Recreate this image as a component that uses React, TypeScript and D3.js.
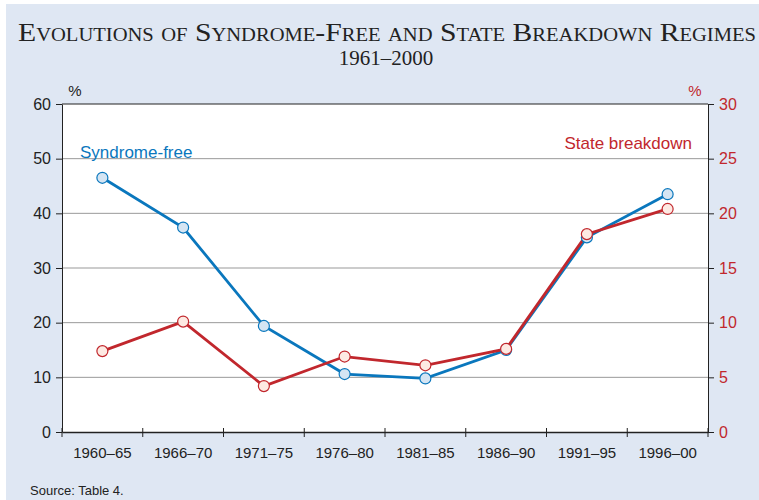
import React, { useEffect, useRef } from "react";
import { select, scaleBand, scaleLinear, axisLeft, axisRight, axisBottom, line } from "d3";

const periods = ["1960–65", "1966–70", "1971–75", "1976–80", "1981–85", "1986–90", "1991–95", "1996–00"];
const syndromeFree = [46.5, 37.4, 19.4, 10.6, 9.8, 15.0, 35.6, 43.5];
const stateBreakdown = [7.4, 10.1, 4.2, 6.9, 6.1, 7.6, 18.1, 20.4];
const leftTicks = [0, 10, 20, 30, 40, 50, 60];
const rightTicks = [0, 5, 10, 15, 20, 25, 30];

const BLUE = "#0a77bd";
const RED = "#c1272d";
const BG = "#dfe7f3";
const SANS = "'Liberation Sans', Arial, sans-serif";
const SERIF = "'Liberation Serif', 'Times New Roman', serif";

const App = () => {
  const svgRef = useRef<SVGSVGElement | null>(null);

  useEffect(() => {
    const svg = select(svgRef.current);
    svg.selectAll("*").remove();

    const left = 62;
    const right = 708;
    const top = 104;
    const bottom = 432;

    const x = scaleBand().domain(periods).range([left, right]);
    const yL = scaleLinear().domain([0, 60]).range([bottom, top]);
    const yR = scaleLinear().domain([0, 30]).range([bottom, top]);
    const cx = (i: number) => x(periods[i])! + x.bandwidth() / 2;

    svg.append("rect").attr("x", 6).attr("y", 4).attr("width", 753).attr("height", 496).attr("fill", BG);

    // titles
    svg
      .append("text")
      .attr("x", 387)
      .attr("y", 41)
      .attr("text-anchor", "middle")
      .attr("font-family", SERIF)
      .attr("font-size", 26)
      .attr("textLength", 738)
      .attr("lengthAdjust", "spacingAndGlyphs")
      .style("font-variant", "small-caps")
      .attr("fill", "#222")
      .text("Evolutions of Syndrome-Free and State Breakdown  Regimes");
    svg
      .append("text")
      .attr("x", 386)
      .attr("y", 65)
      .attr("text-anchor", "middle")
      .attr("font-family", SERIF)
      .attr("font-size", 21)
      .attr("fill", "#222")
      .text("1961–2000");

    svg.append("rect").attr("x", left).attr("y", top).attr("width", right - left).attr("height", bottom - top).attr("fill", "#fff");

    // gridlines
    svg
      .append("g")
      .selectAll("line")
      .data(leftTicks.slice(1))
      .enter()
      .append("line")
      .attr("x1", left)
      .attr("x2", right)
      .attr("y1", (d) => yL(d))
      .attr("y2", (d) => yL(d))
      .attr("stroke", (d) => (d === 60 ? "#222" : "#999"))
      .attr("stroke-width", 1);

    // axes
    const gl = svg
      .append("g")
      .attr("transform", `translate(${left},0)`)
      .call(axisLeft(yL).tickValues(leftTicks).tickSize(6).tickSizeOuter(0).tickPadding(5));
    gl.select(".domain").attr("stroke", "#222");
    gl.selectAll(".tick line").attr("stroke", "#222");
    gl.selectAll("text").attr("font-family", SANS).attr("font-size", 16).attr("fill", "#222");

    const gr = svg
      .append("g")
      .attr("transform", `translate(${right},0)`)
      .call(axisRight(yR).tickValues(rightTicks).tickSize(6).tickSizeOuter(0).tickPadding(5));
    gr.select(".domain").attr("stroke", "#222");
    gr.selectAll(".tick line").attr("stroke", "#222");
    gr.selectAll("text").attr("font-family", SANS).attr("font-size", 16).attr("fill", RED);

    const gb = svg
      .append("g")
      .attr("transform", `translate(0,${bottom})`)
      .call(axisBottom(x).tickSize(0).tickPadding(15));
    gb.select(".domain").attr("stroke", "#222").attr("stroke-width", 1.5);
    gb.selectAll("text").attr("font-family", SANS).attr("font-size", 15).attr("fill", "#222");
    // tick marks on band boundaries
    const bounds = periods.map((p) => x(p)!).concat([right]);
    svg
      .append("g")
      .selectAll("line")
      .data(bounds)
      .enter()
      .append("line")
      .attr("x1", (d) => d)
      .attr("x2", (d) => d)
      .attr("y1", bottom - 4)
      .attr("y2", bottom + 5)
      .attr("stroke", "#222");

    // % labels
    svg.append("text").attr("x", 75).attr("y", 96).attr("text-anchor", "middle").attr("font-family", SANS).attr("font-size", 15).attr("fill", "#222").text("%");
    svg.append("text").attr("x", 695).attr("y", 96).attr("text-anchor", "middle").attr("font-family", SANS).attr("font-size", 15).attr("fill", RED).text("%");

    // lines
    const blueLine = line<number>()
      .x((_, i) => cx(i))
      .y((d) => yL(d));
    const redLine = line<number>()
      .x((_, i) => cx(i))
      .y((d) => yR(d));

    svg.append("path").datum(syndromeFree).attr("d", blueLine).attr("fill", "none").attr("stroke", BLUE).attr("stroke-width", 2.8);
    svg.append("path").datum(stateBreakdown).attr("d", redLine).attr("fill", "none").attr("stroke", RED).attr("stroke-width", 2.8);

    svg
      .append("g")
      .selectAll("circle")
      .data(syndromeFree)
      .enter()
      .append("circle")
      .attr("cx", (_, i) => cx(i))
      .attr("cy", (d) => yL(d))
      .attr("r", 5.5)
      .attr("fill", "#d5e5f3")
      .attr("stroke", BLUE)
      .attr("stroke-width", 1.2);
    svg
      .append("g")
      .selectAll("circle")
      .data(stateBreakdown)
      .enter()
      .append("circle")
      .attr("cx", (_, i) => cx(i))
      .attr("cy", (d) => yR(d))
      .attr("r", 5.5)
      .attr("fill", "#fdeae3")
      .attr("stroke", RED)
      .attr("stroke-width", 1.2);

    // series labels
    svg.append("text").attr("x", 80).attr("y", 158).attr("font-family", SANS).attr("font-size", 17).attr("fill", BLUE).text("Syndrome-free");
    svg.append("text").attr("x", 692).attr("y", 149).attr("text-anchor", "end").attr("font-family", SANS).attr("font-size", 17).attr("fill", RED).text("State breakdown");

    svg.append("text").attr("x", 30).attr("y", 495).attr("font-family", SANS).attr("font-size", 13).attr("fill", "#222").text("Source: Table 4.");
  }, []);

  return <svg ref={svgRef} width={759} height={500} style={{ position: "absolute", left: 0, top: 0 }} />;
};

export default App;
